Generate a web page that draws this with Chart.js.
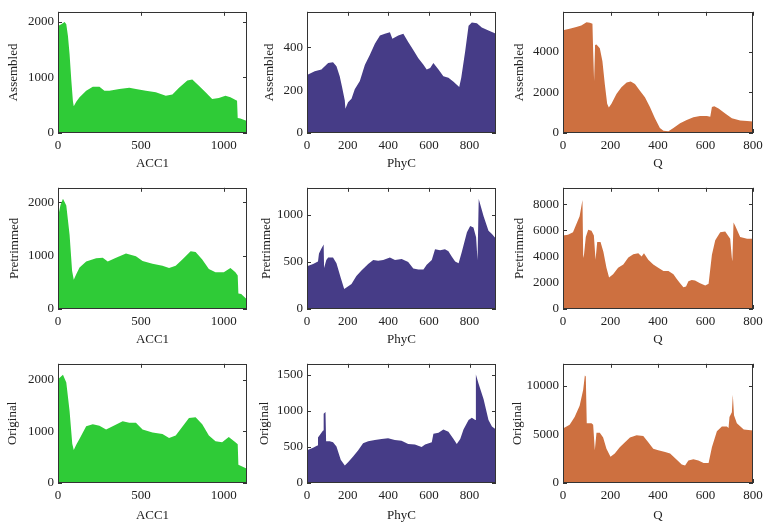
<!DOCTYPE html>
<html>
<head>
<meta charset="utf-8">
<title>Coverage profiles</title>
<script src="https://cdn.jsdelivr.net/npm/chart.js@4.4.1/dist/chart.umd.min.js"></script>
<style>
  body { margin: 0; background: #fff; }
  #grid { position: relative; width: 770px; height: 528px; }
  #grid canvas { position: absolute; }
</style>
</head>
<body>
<div id="grid"></div>
<script>
// ACC1 profiles
const accAssembledX = [0, 20, 40, 50, 60, 70, 80, 90, 95, 110, 130, 170, 210, 250, 280, 310, 370, 430, 470, 530, 590, 650, 690, 730, 780, 810, 850, 890, 930, 970, 1010, 1040, 1080, 1084, 1100, 1140];
const accAssembledY = [1920, 1950, 1990, 1950, 1740, 1410, 960, 570, 480, 560, 640, 760, 830, 830, 760, 760, 790, 810, 790, 760, 730, 670, 690, 810, 940, 960, 850, 730, 610, 630, 670, 640, 580, 270, 260, 215];

const accPretrimmedX = [0, 15, 30, 50, 70, 85, 95, 110, 130, 170, 230, 270, 300, 350, 410, 470, 510, 570, 630, 670, 710, 750, 800, 830, 870, 910, 950, 1000, 1040, 1070, 1084, 1088, 1105, 1140];
const accPretrimmedY = [1725, 1950, 2070, 1940, 1390, 720, 550, 650, 780, 890, 950, 960, 890, 960, 1040, 990, 900, 850, 810, 770, 810, 930, 1085, 1070, 930, 750, 690, 690, 770, 690, 630, 290, 280, 180];

const accOriginalX = [0, 30, 50, 70, 86, 95, 110, 130, 170, 210, 250, 290, 330, 390, 430, 470, 510, 570, 630, 670, 710, 750, 790, 830, 870, 910, 950, 990, 1030, 1070, 1084, 1088, 1140];
const accOriginalY = [2010, 2100, 1950, 1390, 760, 640, 740, 860, 1100, 1140, 1110, 1040, 1100, 1200, 1170, 1170, 1040, 980, 950, 875, 920, 1090, 1260, 1275, 1140, 920, 810, 790, 890, 790, 750, 355, 275];

// PhyC profiles
const phyAssembledX = [0, 38, 71, 104, 128, 145, 161, 173, 186, 189, 202, 219, 235, 260, 285, 309, 334, 359, 383, 408, 420, 449, 474, 498, 523, 548, 573, 589, 606, 622, 647, 671, 696, 721, 749, 759, 778, 795, 811, 836, 860, 893, 930];
const phyAssembledY = [271, 289, 297, 327, 331, 312, 266, 213, 152, 114, 144, 160, 205, 243, 319, 365, 418, 456, 464, 471, 441, 456, 464, 426, 388, 350, 319, 297, 304, 327, 297, 266, 259, 240, 215, 259, 380, 502, 517, 513, 494, 479, 464];

const phyPretrimmedX = [0, 30, 54, 59, 71, 82, 84, 95, 104, 128, 145, 166, 183, 194, 219, 243, 268, 301, 326, 350, 375, 408, 433, 466, 498, 523, 548, 573, 589, 614, 630, 655, 679, 696, 712, 729, 746, 762, 787, 803, 819, 832, 839, 845, 869, 893, 910, 930];
const phyPretrimmedY = [452, 476, 503, 589, 640, 682, 435, 520, 545, 545, 486, 332, 212, 229, 264, 349, 408, 476, 520, 510, 520, 545, 520, 531, 497, 428, 418, 418, 469, 520, 634, 623, 634, 613, 555, 503, 486, 606, 812, 880, 863, 760, 520, 1165, 983, 829, 795, 743];

const phyOriginalX = [0, 30, 51, 54, 71, 79, 82, 91, 94, 112, 128, 145, 166, 186, 202, 227, 252, 276, 301, 334, 367, 399, 432, 465, 498, 531, 564, 581, 614, 622, 647, 671, 696, 721, 737, 754, 770, 795, 811, 828, 831, 844, 869, 893, 910, 930];
const phyOriginalY = [453, 488, 519, 629, 695, 726, 959, 981, 576, 576, 563, 506, 321, 242, 286, 365, 453, 550, 576, 594, 607, 620, 594, 585, 541, 532, 497, 532, 563, 682, 695, 739, 708, 607, 541, 607, 739, 871, 902, 871, 1500, 1377, 1157, 871, 783, 739];

// Q profiles
const qAssembledX = [0, 28, 56, 77, 99, 113, 124, 127, 131, 135, 141, 155, 166, 176, 186, 193, 204, 225, 246, 268, 285, 303, 324, 345, 366, 387, 408, 423, 444, 465, 493, 521, 549, 577, 606, 620, 627, 637, 655, 683, 711, 746, 775, 800];
const qAssembledY = [5040, 5120, 5200, 5280, 5440, 5410, 5360, 4000, 2560, 4320, 4350, 4160, 3520, 2400, 1440, 1250, 1440, 1920, 2240, 2480, 2530, 2400, 2080, 1760, 1280, 720, 240, 110, 80, 240, 480, 640, 770, 830, 830, 800, 1280, 1310, 1200, 960, 720, 610, 590, 560];

const qPretrimmedX = [0, 21, 42, 56, 70, 82, 85, 87, 96, 106, 120, 130, 137, 144, 158, 170, 183, 194, 211, 232, 254, 275, 296, 317, 331, 341, 359, 380, 401, 423, 444, 465, 479, 493, 507, 518, 528, 542, 556, 577, 599, 613, 627, 641, 662, 683, 704, 711, 713, 718, 725, 746, 775, 800];
const qPretrimmedY = [5620, 5670, 5860, 6480, 7090, 8330, 4140, 3890, 5490, 6060, 5980, 5620, 3770, 5120, 5120, 4380, 3150, 2410, 2660, 3150, 3400, 3940, 4190, 4260, 4010, 4260, 3770, 3400, 3150, 2910, 2910, 2660, 2290, 1970, 1670, 1720, 2120, 2220, 2170, 1970, 1800, 1920, 4140, 5250, 5860, 5910, 5370, 3890, 3650, 6600, 6350, 5490, 5370, 5370];

const qOriginalX = [0, 28, 49, 70, 85, 92, 96, 100, 120, 127, 134, 141, 155, 169, 183, 200, 218, 239, 261, 282, 310, 338, 359, 380, 401, 430, 451, 479, 500, 514, 528, 549, 570, 592, 613, 627, 648, 669, 690, 697, 701, 711, 715, 720, 732, 761, 800];
const qOriginalY = [5610, 6000, 6820, 7970, 9610, 11080, 10980, 6160, 6160, 6000, 3380, 5180, 5180, 4690, 3540, 2720, 3050, 3700, 4200, 4690, 4920, 4850, 4200, 3540, 3380, 3210, 3050, 2390, 1900, 1800, 2330, 2460, 2330, 2070, 2070, 3700, 5340, 5840, 5840, 5670, 6820, 7310, 9110, 6980, 6160, 5510, 5410];

// axis labels, ranges and tick values
const genes = ['ACC1', 'PhyC', 'Q'];
const rowLabels = ['Assembled', 'Pretrimmed', 'Original'];
const geneXMax = [1140, 930, 800];
const geneXTicks = [[0, 500, 1000], [0, 200, 400, 600, 800], [0, 200, 400, 600, 800]];
const yMax = [[2175, 567, 5950], [2274, 1284, 9255], [2312, 1649, 12295]];
const yTicks = [
    [[0, 1000, 2000], [0, 200, 400], [0, 2000, 4000]],
    [[0, 1000, 2000], [0, 500, 1000], [0, 2000, 4000, 6000, 8000]],
    [[0, 1000, 2000], [0, 500, 1000, 1500], [0, 5000, 10000]]
];
const geneColors = ['#2fcb37', '#463c87', '#cd7040'];

const series = [
    [[accAssembledX, accAssembledY], [phyAssembledX, phyAssembledY], [qAssembledX, qAssembledY]],
    [[accPretrimmedX, accPretrimmedY], [phyPretrimmedX, phyPretrimmedY], [qPretrimmedX, qPretrimmedY]],
    [[accOriginalX, accOriginalY], [phyOriginalX, phyOriginalY], [qOriginalX, qOriginalY]]
];

// panel geometry
const colLeft = [0, 255, 510];
const colWidth = [255, 255, 260];
const yAxisWidth = [58, 52, 53];
const padRight = [8, 14, 17];
const rowTop = [0, 176, 352];
const padTop = [9, 8, 6];
const xAxisHeight = [43, 43, 45];
const yTitlePad = [[6, 7, 2], [7, 4, 2], [5, 2, 0]];

Chart.defaults.font.family = '"Liberation Serif", "DejaVu Serif", serif';
Chart.defaults.font.size = 13;
Chart.defaults.color = '#222';

// box frame plus inward tick marks on all four sides
const frameTicks = {
    id: 'frameTicks',
    beforeDatasetsDraw(chart) {
        const { ctx, chartArea: a, scales: { x, y } } = chart;
        ctx.save();
        ctx.strokeStyle = '#333';
        ctx.lineWidth = 1;
        ctx.beginPath();
        x.ticks.forEach(t => {
            const px = Math.round(x.getPixelForValue(t.value)) + 0.5;
            ctx.moveTo(px, a.bottom); ctx.lineTo(px, a.bottom - 4);
            ctx.moveTo(px, a.top); ctx.lineTo(px, a.top + 4);
        });
        y.ticks.forEach(t => {
            const py = Math.round(y.getPixelForValue(t.value)) + 0.5;
            ctx.moveTo(a.left, py); ctx.lineTo(a.left + 4, py);
            ctx.moveTo(a.right, py); ctx.lineTo(a.right - 4, py);
        });
        ctx.stroke();
        ctx.restore();
    },
    afterDraw(chart) {
        const { ctx, chartArea: a } = chart;
        ctx.save();
        ctx.strokeStyle = '#333';
        ctx.lineWidth = 1;
        ctx.strokeRect(Math.round(a.left) + 0.5, Math.round(a.top) + 0.5,
            Math.round(a.right - a.left) - 1, Math.round(a.bottom - a.top) - 1);
        ctx.restore();
    }
};

const grid = document.getElementById('grid');

for (let r = 0; r < 3; r++) {
    for (let c = 0; c < 3; c++) {
        const canvas = document.createElement('canvas');
        canvas.width = colWidth[c];
        canvas.height = 176;
        canvas.style.left = colLeft[c] + 'px';
        canvas.style.top = rowTop[r] + 'px';
        grid.appendChild(canvas);

        const [xs, ys] = series[r][c];
        new Chart(canvas, {
            type: 'line',
            data: {
                datasets: [{
                    data: xs.map((x, i) => ({ x: x, y: ys[i] })),
                    backgroundColor: geneColors[c],
                    borderColor: geneColors[c],
                    borderWidth: 0,
                    pointRadius: 0,
                    fill: 'origin',
                    tension: 0
                }]
            },
            options: {
                responsive: false,
                animation: false,
                layout: { padding: { top: padTop[r], right: padRight[c], left: 0, bottom: 0 } },
                plugins: { legend: { display: false }, tooltip: { enabled: false } },
                scales: {
                    x: {
                        type: 'linear',
                        min: 0,
                        max: geneXMax[c],
                        grid: { display: false, drawTicks: false },
                        border: { display: false },
                        ticks: { padding: 5, maxRotation: 0, autoSkip: false, callback: v => String(v) },
                        afterBuildTicks: s => { s.ticks = geneXTicks[c].map(v => ({ value: v })); },
                        title: { display: true, text: genes[c], padding: { top: 0, bottom: 5 } },
                        afterFit: s => { s.height = xAxisHeight[r]; }
                    },
                    y: {
                        min: 0,
                        max: yMax[r][c],
                        grid: { display: false, drawTicks: false },
                        border: { display: false },
                        ticks: { padding: 4, autoSkip: false, callback: v => String(v) },
                        afterBuildTicks: s => { s.ticks = yTicks[r][c].map(v => ({ value: v })); },
                        title: { display: true, text: rowLabels[r], padding: { top: yTitlePad[r][c], bottom: 0 } },
                        afterFit: s => { s.width = yAxisWidth[c]; }
                    }
                }
            },
            plugins: [frameTicks]
        });
    }
}
</script>
</body>
</html>
